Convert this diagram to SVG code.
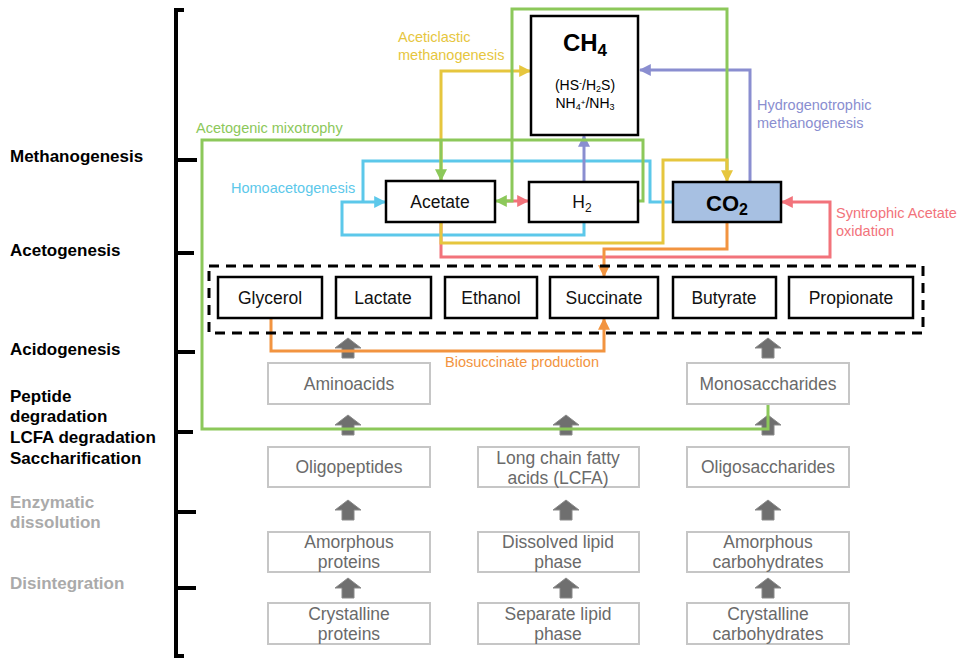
<svg xmlns="http://www.w3.org/2000/svg" width="966" height="658" viewBox="0 0 966 658">
<style>
text{font-family:"Liberation Sans",Arial,sans-serif}
.stage{font-size:17px;font-weight:bold;fill:#000}
.stage.g{fill:#aaaaaa}
.nb{fill:#fff;stroke:#000;stroke-width:2.5}
.gb{fill:#fff;stroke:#c6c6c6;stroke-width:2}
.nt{font-size:17.5px;fill:#111;text-anchor:middle}
.gt{font-size:17.5px;fill:#6a6a6a;text-anchor:middle}
.ln{fill:none;stroke-width:3}
.lbl{font-size:14.5px}
.tick{stroke:#000;stroke-width:4;fill:none}
</style>
<defs>
<marker id="aY" viewBox="0 0 10 10" refX="9" refY="5" markerUnits="userSpaceOnUse" markerWidth="12" markerHeight="12" orient="auto"><path d="M0,0L10,5L0,10z" fill="#e6c63e"/></marker>
<marker id="aG" viewBox="0 0 10 10" refX="9" refY="5" markerUnits="userSpaceOnUse" markerWidth="12" markerHeight="12" orient="auto"><path d="M0,0L10,5L0,10z" fill="#8cc85a"/></marker>
<marker id="aC" viewBox="0 0 10 10" refX="9" refY="5" markerUnits="userSpaceOnUse" markerWidth="12" markerHeight="12" orient="auto"><path d="M0,0L10,5L0,10z" fill="#5cc8ea"/></marker>
<marker id="aP" viewBox="0 0 10 10" refX="9" refY="5" markerUnits="userSpaceOnUse" markerWidth="12" markerHeight="12" orient="auto"><path d="M0,0L10,5L0,10z" fill="#8a8ed0"/></marker>
<marker id="aR" viewBox="0 0 10 10" refX="9" refY="5" markerUnits="userSpaceOnUse" markerWidth="12" markerHeight="12" orient="auto"><path d="M0,0L10,5L0,10z" fill="#f2737b"/></marker>
<marker id="aO" viewBox="0 0 10 10" refX="9" refY="5" markerUnits="userSpaceOnUse" markerWidth="12" markerHeight="12" orient="auto"><path d="M0,0L10,5L0,10z" fill="#f29440"/></marker>
<path id="blk" d="M0,0L13,10L6,10L6,20L-6,20L-6,10L-13,10Z" fill="#6f6f6f" stroke="#8a8a8a" stroke-width="1"/>
</defs>

<g id="scale">
<path class="tick" d="M184,10H176V656H184M176,160H197M176,253H194M176,352H195M176,432H193M176,512H196M176,588H196"/>
<text class="stage" x="10" y="162">Methanogenesis</text>
<text class="stage" x="10" y="256">Acetogenesis</text>
<text class="stage" x="10" y="355">Acidogenesis</text>
<text class="stage" x="10" y="402">Peptide</text>
<text class="stage" x="10" y="422">degradation</text>
<text class="stage" x="10" y="443">LCFA degradation</text>
<text class="stage" x="10" y="464">Saccharification</text>
<text class="stage g" x="10" y="508">Enzymatic</text>
<text class="stage g" x="10" y="528">dissolution</text>
<text class="stage g" x="10" y="589">Disintegration</text>
</g>

<g id="grey-arrows">
<use href="#blk" x="348" y="338"/>
<use href="#blk" x="768" y="338"/>
<use href="#blk" x="348" y="415"/>
<use href="#blk" x="566" y="415"/>
<use href="#blk" x="768" y="415"/>
<use href="#blk" x="348" y="500"/>
<use href="#blk" x="566" y="500"/>
<use href="#blk" x="768" y="500"/>
<use href="#blk" x="348" y="578"/>
<use href="#blk" x="566" y="578"/>
<use href="#blk" x="768" y="578"/>
</g>

<g id="connectors">
<path class="ln" stroke="#f2737b" d="M441,222V257H830V202H782" marker-end="url(#aR)"/>
<path class="ln" stroke="#f2737b" d="M506,201H528" marker-end="url(#aR)"/>
<path class="ln" stroke="#5cc8ea" d="M673,202H650V161H363V202"/>
<path class="ln" stroke="#5cc8ea" d="M584,222V235H342V202H385" marker-end="url(#aC)"/>
<path class="ln" stroke="#e6c63e" d="M441,181V71H530" marker-end="url(#aY)"/>
<path class="ln" stroke="#8a8ed0" d="M584,182V136" marker-end="url(#aP)"/>
<path class="ln" stroke="#8a8ed0" d="M750,182V70H640" marker-end="url(#aP)"/>
<path class="ln" stroke="#8cc85a" d="M768,404V429H202V140H643V201H639"/>
<path class="ln" stroke="#8cc85a" d="M441,140V180" marker-end="url(#aG)"/>
<path class="ln" stroke="#8cc85a" d="M727,170V9H512V201H496" marker-end="url(#aG)"/>
<path class="ln" stroke="#e6c63e" d="M441,222V243H663V160H727V181" marker-end="url(#aY)"/>
<path class="ln" stroke="#f29440" d="M727,222V249H604V276" marker-end="url(#aO)"/>
<path class="ln" stroke="#f29440" d="M271,318V351H604V319" marker-end="url(#aO)"/>
</g>

<g id="labels">
<text class="lbl" fill="#e6c63e" x="398" y="42">Aceticlastic</text>
<text class="lbl" fill="#e6c63e" x="398" y="60">methanogenesis</text>
<text class="lbl" fill="#8cc85a" x="196" y="133">Acetogenic mixotrophy</text>
<text class="lbl" fill="#5cc8ea" x="231" y="193">Homoacetogenesis</text>
<text class="lbl" fill="#8a8ed0" x="757" y="110">Hydrogenotrophic</text>
<text class="lbl" fill="#8a8ed0" x="757" y="128">methanogenesis</text>
<text class="lbl" fill="#f2737b" x="836" y="218">Syntrophic Acetate</text>
<text class="lbl" fill="#f2737b" x="836" y="236">oxidation</text>
<text class="lbl" fill="#f29440" x="445" y="367">Biosuccinate production</text>
</g>

<g id="ch4">
<rect class="nb" x="531" y="16" width="107" height="119"/>
<text x="585" y="51" font-size="24" font-weight="bold" text-anchor="middle">CH<tspan dy="5" font-size="17">4</tspan></text>
<text x="585" y="90" font-size="14" text-anchor="middle">(HS<tspan dy="-4" font-size="9">-</tspan><tspan dy="4">/H</tspan><tspan dy="2" font-size="9">2</tspan><tspan dy="-2">S)</tspan></text>
<text x="585" y="108" font-size="14" text-anchor="middle">NH<tspan dy="2" font-size="9">4</tspan><tspan dy="-5" font-size="8">+</tspan><tspan dy="3">/NH</tspan><tspan dy="2" font-size="9">3</tspan></text>
</g>
<g id="acetate"><rect class="nb" x="386" y="181" width="109" height="41"/><text class="nt" x="440" y="208">Acetate</text></g>
<g id="h2"><rect class="nb" x="529" y="182" width="109" height="40"/><text class="nt" x="582" y="208">H<tspan dy="4" font-size="12">2</tspan></text></g>
<g id="co2"><rect x="673" y="182" width="108" height="40" fill="#a7c0e2" stroke="#000" stroke-width="2.5"/><text x="727" y="211" font-size="22" font-weight="bold" text-anchor="middle">CO<tspan dy="4" font-size="16">2</tspan></text></g>

<g id="acids">
<rect x="209" y="266" width="714" height="67" fill="none" stroke="#000" stroke-width="3" stroke-dasharray="10,7"/>
<g id="glycerol"><rect class="nb" x="218" y="277" width="104" height="41"/><text class="nt" x="270" y="304">Glycerol</text></g>
<g id="lactate"><rect class="nb" x="336" y="277" width="95" height="41"/><text class="nt" x="383" y="304">Lactate</text></g>
<g id="ethanol"><rect class="nb" x="445" y="277" width="92" height="41"/><text class="nt" x="491" y="304">Ethanol</text></g>
<g id="succinate"><rect class="nb" x="550" y="277" width="108" height="41"/><text class="nt" x="604" y="304">Succinate</text></g>
<g id="butyrate"><rect class="nb" x="673" y="277" width="103" height="41"/><text class="nt" x="724" y="304">Butyrate</text></g>
<g id="propionate"><rect class="nb" x="789" y="277" width="124" height="41"/><text class="nt" x="851" y="304">Propionate</text></g>
</g>

<g id="aminoacids"><rect class="gb" x="268" y="363" width="162" height="41"/><text class="gt" x="349" y="390">Aminoacids</text></g>
<g id="monosaccharides"><rect class="gb" x="687" y="363" width="162" height="41"/><text class="gt" x="768" y="390">Monosaccharides</text></g>
<g id="oligopeptides"><rect class="gb" x="268" y="447" width="162" height="40"/><text class="gt" x="349" y="473">Oligopeptides</text></g>
<g id="lcfa"><rect class="gb" x="478" y="447" width="161" height="40"/><text class="gt" x="558" y="464">Long chain fatty</text><text class="gt" x="558" y="484">acids (LCFA)</text></g>
<g id="oligosaccharides"><rect class="gb" x="687" y="447" width="162" height="40"/><text class="gt" x="768" y="473">Oligosaccharides</text></g>
<g id="amorphous-proteins"><rect class="gb" x="268" y="532" width="162" height="40"/><text class="gt" x="349" y="548">Amorphous</text><text class="gt" x="349" y="568">proteins</text></g>
<g id="dissolved-lipid"><rect class="gb" x="478" y="532" width="161" height="40"/><text class="gt" x="558" y="548">Dissolved lipid</text><text class="gt" x="558" y="568">phase</text></g>
<g id="amorphous-carbs"><rect class="gb" x="687" y="532" width="162" height="40"/><text class="gt" x="768" y="548">Amorphous</text><text class="gt" x="768" y="568">carbohydrates</text></g>
<g id="crystalline-proteins"><rect class="gb" x="268" y="603" width="162" height="41"/><text class="gt" x="349" y="620">Crystalline</text><text class="gt" x="349" y="640">proteins</text></g>
<g id="separate-lipid"><rect class="gb" x="478" y="603" width="161" height="41"/><text class="gt" x="558" y="620">Separate lipid</text><text class="gt" x="558" y="640">phase</text></g>
<g id="crystalline-carbs"><rect class="gb" x="687" y="603" width="162" height="41"/><text class="gt" x="768" y="620">Crystalline</text><text class="gt" x="768" y="640">carbohydrates</text></g>
</svg>
